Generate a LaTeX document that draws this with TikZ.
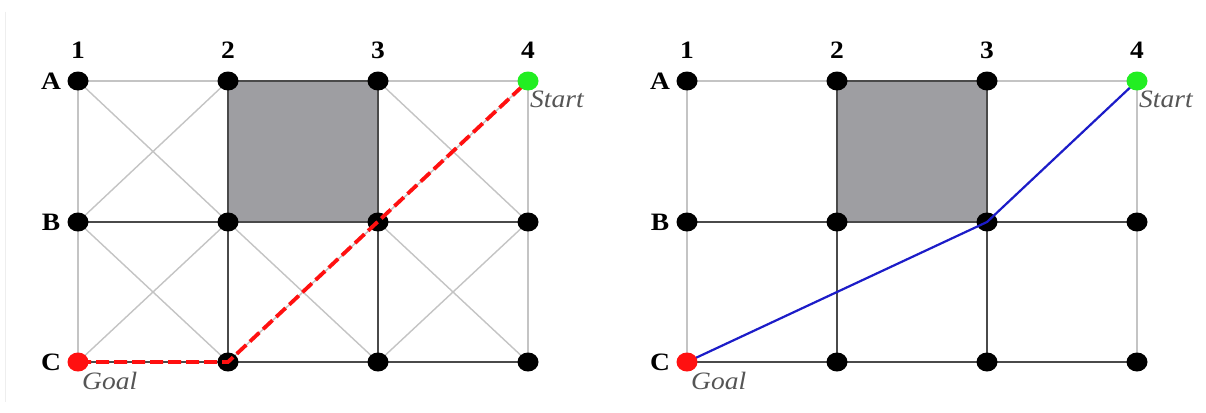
\documentclass[tikz,border=0pt]{standalone}
\usepackage{graphicx}
\usepackage{fontspec}
\setmainfont{Liberation Serif}
\usetikzlibrary{shapes.geometric}
\definecolor{lightln}{HTML}{C4C4C4}
\definecolor{darkln}{HTML}{4A4A4A}
\definecolor{obst}{HTML}{9E9EA2}
\definecolor{startg}{HTML}{22EE22}
\definecolor{goalr}{HTML}{FF1010}
\definecolor{pathb}{HTML}{1C1CC8}
\definecolor{lbl}{HTML}{555555}
\definecolor{edgeln}{HTML}{EEEEEE}
\tikzset{
 dot/.style={ellipse, fill=black, minimum width=21pt, minimum height=19pt, inner sep=0pt},
 light/.style={draw=lightln, line width=1.4pt},
 dark/.style={draw=darkln, line width=1.7pt},
 obstacle/.style={fill=obst, draw=darkln, line width=1.7pt},
 hdr/.style={font=\fontsize{25}{25}\selectfont\bfseries, inner sep=0pt},
 tag/.style={font=\fontsize{25}{25}\selectfont\itshape, text=lbl, inner sep=0pt},
 redpath/.style={draw=goalr, line width=3.8pt, dash pattern=on 13pt off 5pt},
 bluepath/.style={draw=pathb, line width=2.2pt},
}
\newcommand{\wide}[1]{\scalebox{1.1}[1]{#1}}
\begin{document}
\begin{tikzpicture}[x=1pt,y=-1pt]
\useasboundingbox (0,0) rectangle (1206,412);
\fill[white] (0,0) rectangle (1206,412);
\draw[edgeln, line width=1pt] (5,12) -- (5,402);
\foreach \P/\dx in {L/0,R/609}{
 \begin{scope}[xshift=\dx]
  \foreach \r/\y in {A/81,B/222,C/362}{
   \foreach \c/\x in {1/78,2/228,3/378,4/528}{
    \coordinate (\P\r\c) at (\x,\y);
   }
  }
  \path[obstacle] (\P A2) rectangle (\P B3);
  \draw[light] (\P A1) -- (\P A2);
  \draw[light] (\P A3) -- (\P A4);
  \draw[light] (\P A1) -- (\P C1);
  \draw[light] (\P A4) -- (\P C4);
  \draw[dark] (\P B1) -- (\P B4);
  \draw[dark] (\P B2) -- (\P C2);
  \draw[dark] (\P B3) -- (\P C3);
  \draw[dark] (\P C1) -- (\P C4);
  \foreach \c/\x in {1/78,2/228,3/378,4/528}{
   \node[hdr] (\P n\c) at (\x,50) {\wide{\c}};
  }
  \foreach \r/\y in {A/81,B/222,C/362}{
   \node[hdr] (\P l\r) at (51,\y) {\wide{\r}};
  }
 \end{scope}
}
% diagonals of the left grid
\draw[light] (LA1) -- (LB2) (LA2) -- (LB1);
\draw[light] (LA3) -- (LB4) (LA4) -- (LB3);
\draw[light] (LB1) -- (LC2) (LB2) -- (LC1);
\draw[light] (LB2) -- (LC3) (LB3) -- (LC2);
\draw[light] (LB3) -- (LC4) (LB4) -- (LC3);
% dots
\foreach \P in {L,R}{
 \foreach \n in {A1,A2,A3,B1,B2,B3,B4,C2,C3,C4}{
  \node[dot] (\P d\n) at (\P\n) {};
 }
}
% paths
\draw[redpath] (LC1) -- (LC2) -- (LA4);
\draw[bluepath] (RC1) -- (RB3) -- (RA4);
\foreach \P in {L,R}{
 \node[dot, fill=startg] (\P dA4) at (\P A4) {};
 \node[dot, fill=goalr] (\P dC1) at (\P C1) {};
 \node[tag, anchor=north west] (\P start) at ([xshift=2pt,yshift=-10pt]\P A4) {\wide{Start}};
 \node[tag, anchor=north west] (\P goal) at ([xshift=4pt,yshift=-10pt]\P C1) {\wide{Goal}};
}
\end{tikzpicture}
\end{document}
